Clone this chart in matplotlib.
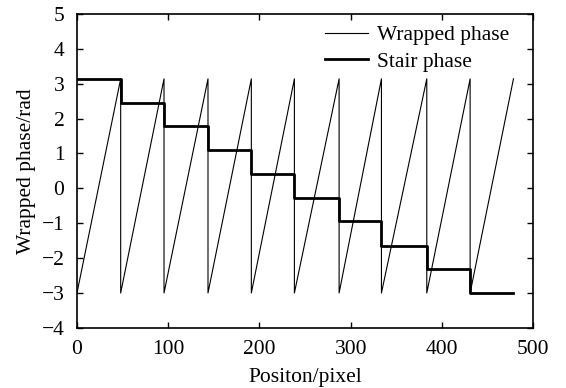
import matplotlib
matplotlib.use("Agg")
import matplotlib.pyplot as plt

plt.rcParams["font.family"] = ["Liberation Serif", "DejaVu Serif"]

# positions (pixel) where the wrapped phase jumps, and where data ends
jump_x = [47.9, 95.4, 143.6, 191.1, 238.3, 287.3, 333.7, 383.4, 430.9]
end_x = 478.4
wrap_low = -3.0
wrap_high = 3.14

# stair phase levels, one per period
stair_levels = [3.14, 2.46, 1.78, 1.09, 0.41, -0.27, -0.95, -1.64, -2.32, -3.00]

# build sawtooth vertices
wx = [0.0]
wy = [wrap_low]
for j in jump_x:
    wx += [j, j]
    wy += [wrap_high, wrap_low]
wx.append(end_x)
wy.append(wrap_high)

# build stair vertices
edges = [0.0] + jump_x + [end_x]
sx, sy = [], []
for i, lev in enumerate(stair_levels):
    sx += [edges[i], edges[i + 1]]
    sy += [lev, lev]

fig = plt.figure(figsize=(5.66, 3.88), dpi=100)
ax = fig.add_axes([0.136, 0.155, 0.806, 0.809])

ax.plot(wx, wy, color="black", lw=0.8, label="Wrapped phase")
ax.plot(sx, sy, color="black", lw=2.0, label="Stair phase")

ax.set_xlim(0, 500)
ax.set_ylim(-4, 5)
ax.set_xticks(range(0, 501, 100))
ax.set_yticks(range(-4, 6))
ax.set_yticklabels([str(v).replace("-", "\u2212") for v in range(-4, 6)])
ax.tick_params(direction="in", top=True, right=True, labelsize=15.5,
               length=4, width=1)
ax.tick_params(axis="y", pad=9)
ax.tick_params(axis="x", pad=9)
for s in ax.spines.values():
    s.set_linewidth(1.2)

ax.set_xlabel("Positon/pixel", fontsize=15.5, labelpad=6)
ax.set_ylabel("Wrapped phase/rad", fontsize=15.5, labelpad=4)

ax.legend(loc="upper right", frameon=False, fontsize=15.5, handlelength=2.0,
          labelspacing=0.3, borderaxespad=0.2, handletextpad=0.4,
          bbox_to_anchor=(0.975, 1.005))

fig.savefig("out.png", dpi=100)
